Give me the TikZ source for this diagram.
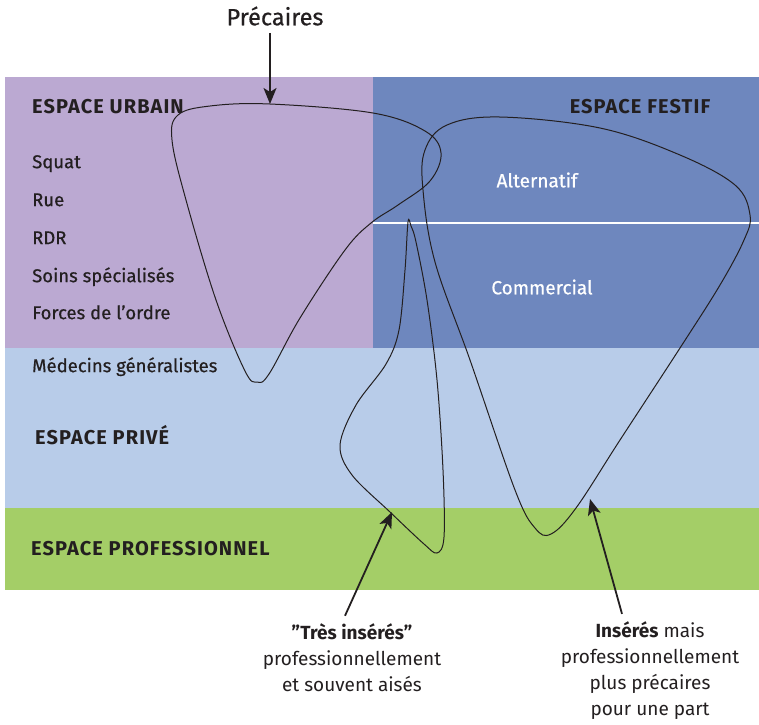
\documentclass[tikz,border=0pt]{standalone}
\usepackage{fontspec}
\setmainfont{Fira Sans}
\newfontfamily\medfont{Fira Sans}[FakeBold=0.6]
\usetikzlibrary{positioning, arrows.meta}

\definecolor{urbain}{HTML}{BBA9D2}
\definecolor{festif}{HTML}{6E87BE}
\definecolor{prive}{HTML}{B8CCE9}
\definecolor{pro}{HTML}{A4CE67}
\definecolor{ink}{HTML}{231F20}

\begin{document}
\begin{tikzpicture}[x=1pt, y=-1pt, >={Stealth[length=16pt, width=13pt, inset=4pt]},
    titre/.style={anchor=west, inner sep=0pt, text=ink, font=\bfseries\fontsize{20}{22}\selectfont\addfontfeature{LetterSpace=5.5}},
    item/.style={anchor=west, inner sep=0pt, text=ink, text height=1.6ex, text depth=.4ex, font=\medfont\fontsize{18.5}{22}\selectfont},
    fete/.style={inner sep=0pt, text=white, font=\medfont\fontsize{19}{22}\selectfont},
    capt/.style={align=center, inner sep=0pt, text=ink, font=\fontsize{19}{26}\selectfont},
    boucle/.style={ink, line width=1pt},
    fleche/.style={->, ink, line width=1.8pt}]

    \useasboundingbox (0,0) rectangle (759,724);

    % Background zones
    \fill[urbain] (5,77) rectangle (373,348);
    \fill[festif] (373,77) rectangle (759,348);
    \fill[prive] (5,348) rectangle (759,508);
    \fill[pro] (5,508) rectangle (759,590);
    \draw[white, line width=1.5pt] (373,223) -- (759,223);

    % Zone titles and places
    \node[titre] (urbain) at (32,107) {ESPACE URBAIN};
    \node[titre, anchor=center] (festif) at (640,107) {ESPACE FESTIF};
    \node[titre] (prive) at (35,435) {ESPACE PRIVÉ};
    \node[titre] (pro) at (31,549) {ESPACE PROFESSIONNEL};

    \node[item] (squat) at (32,165) {Squat};
    \node[item, below=38pt of squat.west, anchor=west] (rue) {Rue};
    \node[item, below=38pt of rue.west, anchor=west] (rdr) {RDR};
    \node[item, below=38pt of rdr.west, anchor=west] (soins) {Soins spécialisés};
    \node[item, below=37pt of soins.west, anchor=west] (forces) {Forces de l’ordre};
    \node[item, below=53pt of forces.west, anchor=west] (medecins) {Médecins généralistes};

    \node[fete] (alter) at (537,180) {Alternatif};
    \node[fete] (commerce) at (542,287) {Commercial};

    % The three populations
    \draw[boucle] plot[smooth cycle, tension=0.6] coordinates {
        (270,104) (373,113) (425,131) (441,153) (430,181) (398,205) (371,223)
        (345,250) (300,318) (269,374) (257,382) (245,371) (216,300) (186,200)
        (172,140) (178,115) (210,106)};
    \draw[boucle] plot[smooth cycle, tension=0.55] coordinates {
        (408,222) (405,270) (399,330) (386,364) (356,405) (340,445) (352,475)
        (390,512) (424,544) (437,553) (444,537) (443,470) (437,380) (427,300)
        (416,242) (411,226)};
    \draw[boucle] plot[smooth cycle, tension=0.6] coordinates {
        (500,117) (600,128) (680,155) (735,185) (750,215) (744,240) (720,285)
        (680,348) (620,440) (576,508) (551,534) (535,528) (515,490) (470,360)
        (435,262) (423,190) (425,150) (447,125)};

    \coordinate (precTip) at (270,104);
    \coordinate (tresTip) at (392,512);
    \coordinate (insTip) at (590,499);

    % Captions and their arrows
    \node[inner sep=0pt, text=ink, font=\medfont\fontsize{23.5}{26}\selectfont] (prec) at (275,16) {Précaires};
    \node[capt] (tres) at (352,658) {\textbf{"Très insérés"}\\professionnellement\\et souvent aisés};
    \node[capt] (ins) at (650,671) {\textbf{Insérés} mais\\professionnellement\\plus précaires\\pour une part};

    \draw[fleche, shorten <=7pt] (prec.south -| precTip) -- (precTip);
    \draw[fleche] ([xshift=-7pt, yshift=8pt]tres.north) -- (tresTip);
    \draw[fleche] ([xshift=-28pt, yshift=8pt]ins.north) -- (insTip);

\end{tikzpicture}
\end{document}
